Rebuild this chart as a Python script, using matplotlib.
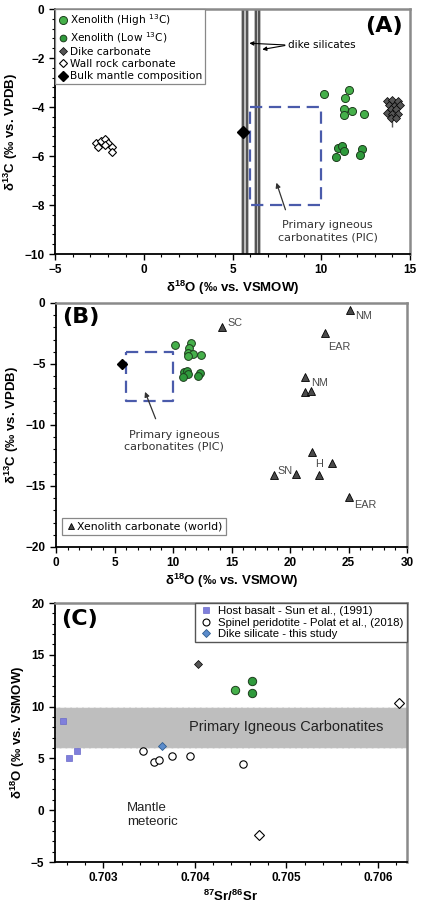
import matplotlib
matplotlib.use("Agg")
import matplotlib.pyplot as plt
from matplotlib.lines import Line2D
from matplotlib.ticker import MultipleLocator, FormatStrFormatter

plt.rcParams["font.family"] = ["DejaVu Sans"]
plt.rcParams["mathtext.default"] = "regular"

ARIAL = "Liberation Sans"

# ── data: panel A / B (d18O VSMOW, d13C VPDB) ────────────────────────────────
HIGH_D18O = [10.17, 11.57, 11.35, 11.29, 11.72, 11.25, 12.42]
HIGH_D13C = [-3.47, -3.31, -3.65, -4.09, -4.15, -4.33, -4.30]
LOW_D18O = [10.92, 11.16, 11.25, 10.82, 12.29, 12.17]
LOW_D13C = [-5.69, -5.59, -5.78, -6.03, -5.73, -5.96]
DIKE_CARB_D18O = [13.7, 14.0, 14.3, 13.8, 14.1, 14.4, 13.9, 14.2, 13.7, 14.0, 14.3, 13.9, 14.2]
DIKE_CARB_D13C = [-3.75, -3.70, -3.75, -3.90, -3.95, -3.90, -4.10, -4.10, -4.25, -4.30, -4.30, -4.45, -4.45]
WALL_D18O = [-2.66, -2.38, -2.19, -2.00, -1.81, -1.81, -2.57, -2.19]
WALL_D13C = [-5.48, -5.39, -5.32, -5.48, -5.62, -5.82, -5.62, -5.55]
MANTLE_D18O = [5.6]
MANTLE_D13C = [-5.0]
DIKE_SIL_D18O = [5.69, 6.40]
DIKE_SIL_ERR = 0.21
PIC_D18O = (6.0, 10.0)
PIC_D13C = (-8.0, -4.0)

WORLD_D18O = [25.1, 14.2, 23.0, 21.3, 21.3, 21.8, 21.9, 23.6, 22.5, 18.6, 20.5, 25.0]
WORLD_D13C = [-0.6, -2.0, -2.5, -6.1, -7.3, -7.2, -12.2, -13.1, -14.1, -14.1, -14.0, -15.9]
WORLD_LABELS = ["NM", "SC", "EAR", "NM", "", "", "", "", "", "SN", "", "EAR"]

# ── data: panel C (87Sr/86Sr, d18O) ──────────────────────────────────────────
BASALT_SR = [0.70256, 0.70263, 0.70271]
BASALT_O = [8.65, 5.04, 5.75]
PERID_SR = [0.70343, 0.70355, 0.70361, 0.70375, 0.70395, 0.70453]
PERID_O = [5.70, 4.66, 4.88, 5.19, 5.23, 4.50]
DSIL_SR = [0.70364]
DSIL_O = [6.17]
DCARB_SR = [0.70403]
DCARB_O = [14.1]
XENO_SR = [0.70444, 0.70463, 0.70463]
XENO_O = [11.58, 12.45, 11.36]
WALLC_SR = [0.70623, 0.70470]
WALLC_O = [10.38, -2.36]
PIC_BAND = (6.0, 10.0)

G_HIGH = "#45b04a"
G_LOW = "#2f9a3c"
DK = "#555555"
BLUE = "#4a5bab"


def style(ax):
    for s in ("left", "bottom"):
        ax.spines[s].set_color("black")
        ax.spines[s].set_linewidth(1.3)
    for s in ("top", "right"):
        ax.spines[s].set_color("#8a8a8a")
        ax.spines[s].set_linewidth(1.8)
    ax.tick_params(which="major", direction="out", length=4, width=1, labelsize=8.5)
    ax.tick_params(which="minor", direction="out", length=2.5, width=0.8)
    for lab in ax.get_xticklabels() + ax.get_yticklabels():
        lab.set_fontfamily(ARIAL)
        lab.set_fontweight("bold")


def pic_box(ax):
    ax.plot([PIC_D18O[0], PIC_D18O[1], PIC_D18O[1], PIC_D18O[0], PIC_D18O[0]],
            [PIC_D13C[1], PIC_D13C[1], PIC_D13C[0], PIC_D13C[0], PIC_D13C[1]],
            color=BLUE, lw=1.6, ls=(0, (5.5, 3)), zorder=2)


fig = plt.figure(figsize=(4.22, 9.05), dpi=100)
fig.patch.set_facecolor("white")

XLAB = "δ$^{18}$O (‰ vs. VSMOW)"
YLAB_C = "δ$^{13}$C (‰ vs. VPDB)"

# ── Panel A ──────────────────────────────────────────────────────────────────
ax = fig.add_axes([0.130, 0.7193, 0.842, 0.2707])
for c in DIKE_SIL_D18O:
    ax.axvspan(c - DIKE_SIL_ERR, c + DIKE_SIL_ERR, color="#bdbdbd", zorder=1, lw=0)
    ax.axvline(c - DIKE_SIL_ERR / 2, color="#4a4a4a", lw=1.3, zorder=1)
    ax.axvline(c + DIKE_SIL_ERR / 2, color="#4a4a4a", lw=1.3, zorder=1)
pic_box(ax)
ax.plot(WALL_D18O, WALL_D13C, "D", ms=3.6, mfc="white", mec="black", mew=0.8, ls="none", zorder=4)
ax.plot(MANTLE_D18O, MANTLE_D13C, "D", ms=6, color="black", ls="none", zorder=4)
ax.errorbar([14.0], [-4.3], yerr=0.5, color=DK, lw=1, capsize=0, zorder=3)
ax.plot(DIKE_CARB_D18O, DIKE_CARB_D13C, "D", ms=4.2, mfc=DK, mec="black", mew=0.5, ls="none", zorder=4)
ax.plot(HIGH_D18O, HIGH_D13C, "o", ms=5.8, mfc=G_HIGH, mec="#1d3d1d", mew=0.7, ls="none", zorder=5)
ax.plot(LOW_D18O, LOW_D13C, "o", ms=5.8, mfc=G_LOW, mec="#1d3d1d", mew=0.7, ls="none", zorder=5)

ax.text(8.15, -1.47, "dike silicates", fontsize=7.5, va="center", ha="left")
ax.annotate("", xy=(5.79, -1.39), xytext=(8.1, -1.47),
            arrowprops=dict(arrowstyle="-|>", color="black", lw=0.8, mutation_scale=6))
ax.annotate("", xy=(6.52, -1.67), xytext=(8.1, -1.47),
            arrowprops=dict(arrowstyle="-|>", color="black", lw=0.8, mutation_scale=6))
ax.text(10.35, -9.08, "Primary igneous\ncarbonatites (PIC)", fontsize=8, ha="center", va="center",
        color="#333333", linespacing=1.25)
ax.annotate("", xy=(7.42, -6.98), xytext=(8.03, -8.3),
            arrowprops=dict(arrowstyle="-|>", color="#333333", lw=0.9, mutation_scale=7))
ax.text(0.927, 0.93, "(A)", transform=ax.transAxes, fontsize=16, fontweight="bold",
        ha="center", va="center")

handles = [
    Line2D([], [], marker="o", ls="none", ms=5.8, mfc=G_HIGH, mec="#1d3d1d", mew=0.7),
    Line2D([], [], marker="o", ls="none", ms=4.8, mfc=G_LOW, mec="#1d3d1d", mew=0.7),
    Line2D([], [], marker="D", ls="none", ms=4, mfc=DK, mec="black", mew=0.5),
    Line2D([], [], marker="D", ls="none", ms=3.8, mfc="white", mec="black", mew=0.8),
    Line2D([], [], marker="D", ls="none", ms=5.2, color="black"),
]
labels = ["Xenolith (High $^{13}$C)", "Xenolith (Low $^{13}$C)", "Dike carbonate",
          "Wall rock carbonate", "Bulk mantle composition"]
leg = ax.legend(handles, labels, loc="upper left", fontsize=7.6, frameon=True, fancybox=False,
                borderaxespad=0, borderpad=0.3, handletextpad=0.1, labelspacing=0.2,
                handlelength=1.0, edgecolor="#888888", framealpha=1)
leg.get_frame().set_linewidth(0.9)

ax.set_xlim(-5, 15)
ax.set_ylim(-10, 0)
ax.xaxis.set_major_locator(MultipleLocator(5))
ax.xaxis.set_minor_locator(MultipleLocator(1))
ax.yaxis.set_major_locator(MultipleLocator(2))
ax.yaxis.set_minor_locator(MultipleLocator(0.4))
ax.set_xlabel(XLAB, fontfamily=ARIAL, fontweight="bold", fontsize=9.5, labelpad=2)
ax.set_ylabel(YLAB_C, fontfamily=ARIAL, fontweight="bold", fontsize=9.5, labelpad=3)
style(ax)

# ── Panel B ──────────────────────────────────────────────────────────────────
ax = fig.add_axes([0.1327, 0.3956, 0.8318, 0.2696])
pic_box(ax)
ax.plot(MANTLE_D18O, MANTLE_D13C, "D", ms=5.5, color="black", ls="none", zorder=4)
ax.plot(HIGH_D18O, HIGH_D13C, "o", ms=5.6, mfc=G_HIGH, mec="#1d3d1d", mew=0.7, ls="none", zorder=5)
ax.plot(LOW_D18O, LOW_D13C, "o", ms=5.6, mfc=G_LOW, mec="#1d3d1d", mew=0.7, ls="none", zorder=5)
ax.plot(WORLD_D18O, WORLD_D13C, "^", ms=5.2, mfc="#4a4a4a", mec="black", mew=0.6, ls="none", zorder=5)

label_offsets = {0: (4, -4), 1: (4, 3), 2: (2, -10), 3: (4, -4), 9: (3, 3), 11: (4, -6)}
for i, lbl in enumerate(WORLD_LABELS):
    if lbl:
        dx, dy = label_offsets[i]
        ax.annotate(lbl, (WORLD_D18O[i], WORLD_D13C[i]), xytext=(dx, dy), textcoords="offset points",
                    fontsize=7.8, fontfamily=ARIAL, color="#4a4a4a", va="center", ha="left")
ax.annotate("H", (WORLD_D18O[8], WORLD_D13C[8]), xytext=(0, 8), textcoords="offset points",
            fontsize=7.8, fontfamily=ARIAL, color="#4a4a4a", va="center", ha="center")

ax.text(10.1, -11.3, "Primary igneous\ncarbonatites (PIC)", fontsize=8, ha="center", va="center",
        color="#333333", linespacing=1.25)
ax.annotate("", xy=(7.52, -7.07), xytext=(8.6, -9.7),
            arrowprops=dict(arrowstyle="-|>", color="#333333", lw=0.9, mutation_scale=7))
ax.text(0.071, 0.943, "(B)", transform=ax.transAxes, fontsize=16, fontweight="bold",
        ha="center", va="center")

hb = [Line2D([], [], marker="^", ls="none", ms=5, mfc="#4a4a4a", mec="black", mew=0.6)]
leg = ax.legend(hb, ["Xenolith carbonate (world)"], loc="lower left", fontsize=7.8, frameon=True,
                fancybox=False, bbox_to_anchor=(0.018, 0.05), borderaxespad=0, borderpad=0.3,
                handletextpad=0.1, handlelength=1.0, edgecolor="#888888", framealpha=1)
leg.get_frame().set_linewidth(0.9)

ax.set_xlim(0, 30)
ax.set_ylim(-20, 0)
ax.xaxis.set_major_locator(MultipleLocator(5))
ax.xaxis.set_minor_locator(MultipleLocator(1))
ax.yaxis.set_major_locator(MultipleLocator(5))
ax.yaxis.set_minor_locator(MultipleLocator(1))
ax.set_xlabel(XLAB, fontfamily=ARIAL, fontweight="bold", fontsize=9.5, labelpad=2)
ax.set_ylabel(YLAB_C, fontfamily=ARIAL, fontweight="bold", fontsize=9.5, labelpad=3)
style(ax)

# ── Panel C ──────────────────────────────────────────────────────────────────
ax = fig.add_axes([0.130, 0.0475, 0.8345, 0.2862])
ax.axhspan(PIC_BAND[0], PIC_BAND[1], facecolor="#bebebe", edgecolor="#eeeeee", ls="--", lw=0.8, zorder=1)
ax.text(0.70500, 8.0, "Primary Igneous Carbonatites", fontsize=10.5, fontfamily=ARIAL,
        ha="center", va="center", color="#222222", zorder=2)
ax.text(0.70326, -0.45, "Mantle\nmeteoric", fontsize=9.5, fontfamily=ARIAL, ha="left", va="center",
        color="#222222", linespacing=1.25)
ax.plot(BASALT_SR, BASALT_O, "s", ms=4.2, mfc="#7f7fdc", mec="#6a6ac8", mew=0.5, ls="none", zorder=4)
ax.plot(PERID_SR, PERID_O, "o", ms=5.3, mfc="white", mec="black", mew=0.8, ls="none", zorder=4)
ax.plot(DSIL_SR, DSIL_O, "D", ms=4.5, mfc="#5b8ccc", mec="#2f5d8f", mew=0.6, ls="none", zorder=5)
ax.plot(DCARB_SR, DCARB_O, "D", ms=4.5, mfc=DK, mec="black", mew=0.5, ls="none", zorder=5)
ax.plot(XENO_SR[:1], XENO_O[:1], "o", ms=6, mfc=G_HIGH, mec="#1d3d1d", mew=0.7, ls="none", zorder=5)
ax.plot(XENO_SR[1:], XENO_O[1:], "o", ms=6, mfc=G_LOW, mec="#1d3d1d", mew=0.7, ls="none", zorder=5)
ax.plot(WALLC_SR, WALLC_O, "D", ms=5, mfc="white", mec="black", mew=0.8, ls="none", zorder=5)
ax.text(0.07, 0.938, "(C)", transform=ax.transAxes, fontsize=16, fontweight="bold",
        ha="center", va="center")

hc = [Line2D([], [], marker="s", ls="none", ms=4.2, mfc="#7f7fdc", mec="#6a6ac8", mew=0.5),
      Line2D([], [], marker="o", ls="none", ms=5, mfc="white", mec="black", mew=0.8),
      Line2D([], [], marker="D", ls="none", ms=4.5, mfc="#5b8ccc", mec="#2f5d8f", mew=0.6)]
leg = ax.legend(hc, ["Host basalt - Sun et al., (1991)", "Spinel peridotite - Polat et al., (2018)",
                     "Dike silicate - this study"],
                loc="upper right", prop={"family": ARIAL, "size": 8.2}, frameon=True, fancybox=False,
                borderaxespad=0, borderpad=0.3, handletextpad=0.5, labelspacing=0.1,
                handlelength=1.2, edgecolor="#555555", framealpha=1)
leg.get_frame().set_linewidth(1.0)

ax.set_xlim(0.70247, 0.70632)
ax.set_ylim(-5, 20)
ax.xaxis.set_major_locator(MultipleLocator(0.001))
ax.xaxis.set_minor_locator(MultipleLocator(0.0002))
ax.yaxis.set_major_locator(MultipleLocator(5))
ax.yaxis.set_minor_locator(MultipleLocator(1))
ax.xaxis.set_major_formatter(FormatStrFormatter("%.3f"))
ax.set_xlabel("$^{87}$Sr/$^{86}$Sr", fontfamily=ARIAL, fontweight="bold", fontsize=9.5, labelpad=3)
ax.set_ylabel("δ$^{18}$O (‰ vs. VSMOW)", fontfamily=ARIAL, fontweight="bold", fontsize=9.5, labelpad=3)
style(ax)

fig.savefig("out.png", dpi=100)
